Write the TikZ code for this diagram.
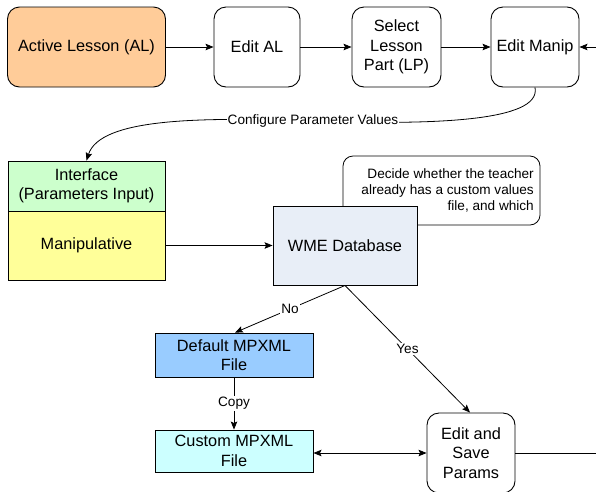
\documentclass[tikz,border=0pt]{standalone}
\usepackage{fontspec}
\setmainfont{Liberation Sans}
\usetikzlibrary{arrows.meta}
\definecolor{alfill}{HTML}{FFCC99}
\definecolor{iffill}{HTML}{CCFFCC}
\definecolor{manfill}{HTML}{FFFF99}
\definecolor{dbfill}{HTML}{E8EEF7}
\definecolor{deffill}{HTML}{99CCFF}
\definecolor{cusfill}{HTML}{CCFFFF}
\tikzset{
  box/.style={draw=black, line width=0.9pt, inner sep=0pt, align=center,
    font=\fontsize{16.3}{19.5}\selectfont},
  rbox/.style={box, rounded corners=12pt},
  smalltxt/.style={font=\fontsize{13.6}{16}\selectfont},
  lbl/.style={smalltxt, fill=white, inner sep=1pt},
  tip/.style={-{Stealth[length=8pt,width=6.5pt,inset=1.5pt]}},
  flow/.style={draw=black, line width=0.8pt, tip},
  plain/.style={draw=black, line width=0.8pt},
}
\begin{document}
\begin{tikzpicture}[x=1pt,y=-1pt]
  \clip (0,0) rectangle (596,491);
  \fill[white] (0,0) rectangle (596,491);

  % top row of steps
  \node[rbox, fill=alfill, minimum width=158pt, minimum height=80pt] (al) at (86.5,47) {Active Lesson (AL)};
  \node[rbox, fill=white, minimum width=86pt, minimum height=80pt] (eal) at (257,47) {Edit AL};
  \node[rbox, fill=white, minimum width=89pt, minimum height=80pt] (slp) at (396.5,47) {Select\\Lesson\\Part (LP)};
  \node[rbox, fill=white, minimum width=88pt, minimum height=80pt] (em) at (535,47) {Edit Manip};
  \coordinate (inR) at (600,47);

  \draw[flow] (al) -- (eal);
  \draw[flow] (eal) -- (slp);
  \draw[flow] (slp) -- (em);
  \draw[flow] (inR) -- (em);

  % interface stacked on the manipulative
  \node[box, fill=iffill, minimum width=157pt, minimum height=50pt] (if) at (86.5,186) {Interface\\(Parameters Input)};
  \node[box, fill=manfill, minimum width=157pt, minimum height=69pt] (man) at (86.5,245.5) {Manipulative};

  % curved edge with its label
  \draw[flow] (em.south) .. controls (542,122) and (430,125) .. (313,121)
              .. controls (200,117) and (100,118) .. (if.north);
  \node[lbl] (cfg) at (313,121) {Configure Parameter Values};

  % note behind the database
  \node[draw=black, line width=0.8pt, fill=white, rounded corners=10pt,
        minimum width=197pt, minimum height=69pt] (note) at (441.5,190.5) {};
  \node[smalltxt, align=right, anchor=east, inner sep=0pt,
        text depth=0pt] (notetxt) at (534,189.5)
        {\fontsize{13.6}{16}\selectfont Decide whether the teacher\\already has a custom values\\file, and which};

  \node[box, fill=dbfill, minimum width=144pt, minimum height=79pt] (db) at (345,245.5) {WME Database};
  \draw[flow] (man.east |- db.west) -- (db.west);

  % file boxes
  \node[box, fill=deffill, minimum width=158pt, minimum height=44pt] (def) at (234,355) {Default MPXML\\File};
  \node[box, fill=cusfill, minimum width=158pt, minimum height=42pt] (cus) at (234,451) {Custom MPXML\\File};
  \node[rbox, fill=white, minimum width=88pt, minimum height=80pt] (esp) at (471,453) {Edit and\\Save\\Params};
  \coordinate (outR) at (600,453);

  \draw[flow] (db.south) -- node[lbl] {No} (def.north -| 235,0);
  \draw[flow] (db.south) -- node[lbl] {Yes} (esp.north -| 470,0);
  \draw[flow] (def.south) -- node[lbl] {Copy} (cus.north);
  \draw[plain, {Stealth[length=8pt,width=6.5pt,inset=1.5pt]}-{Stealth[length=8pt,width=6.5pt,inset=1.5pt]}]
    (esp.west -| cus.east) -- (esp.west);
  \draw[plain] (esp.east) -- (outR);
\end{tikzpicture}
\end{document}
